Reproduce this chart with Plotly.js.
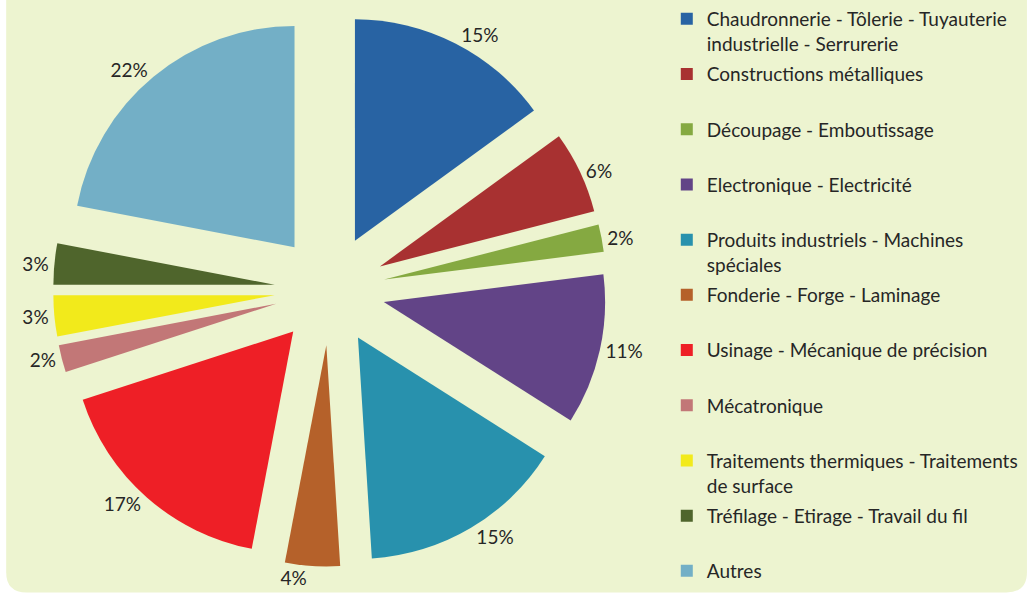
<!DOCTYPE html>
<html>
<head>
<meta charset="utf-8">
<script src="https://cdn.plot.ly/plotly-3.0.1.min.js"></script>
<style>
  html, body { margin: 0; padding: 0; background: #ffffff; }
  #chart { width: 1029px; height: 596px; }
</style>
</head>
<body>
<div id="chart"></div>
<script>
// ---- data ----
var categories = [
  "Chaudronnerie - Tôlerie - Tuyauterie<br>industrielle - Serrurerie",
  "Constructions métalliques",
  "Découpage - Emboutissage",
  "Electronique - Electricité",
  "Produits industriels - Machines<br>spéciales",
  "Fonderie - Forge - Laminage",
  "Usinage - Mécanique de précision",
  "Mécatronique",
  "Traitements thermiques - Traitements<br>de surface",
  "Tréfilage - Etirage - Travail du fil",
  "Autres"
];
var shares = [15, 6, 2, 11, 15, 4, 17, 2, 3, 3, 22];
var sliceColors = [
  "#2863A3", "#A83131", "#85A941", "#624487", "#2891AD", "#B5612A",
  "#EE1F26", "#C27777", "#F2EA1B", "#4F652C", "#73AFC6"
];

var textFont = { family: "Lato, 'Open Sans', sans-serif", size: 19, color: "#262626" };

var pieTrace = {
  type: "pie",
  labels: categories,
  values: shares,
  sort: false,
  direction: "clockwise",
  rotation: 0,
  pull: 0.25,
  marker: { colors: sliceColors, line: { width: 0 } },
  textinfo: "percent",
  texttemplate: "%{percent:.0%}",
  textposition: "outside",
  outsidetextfont: textFont,
  showlegend: false,
  domain: { x: [0.051, 0.590], y: [0.0495, 0.981] },
  hoverinfo: "label+percent"
};

// legend entries (one per category, same names & colours as the slices)
var legendTraces = categories.map(function (name, i) {
  var lines = name.split("<br>").length;
  var isLast = i === categories.length - 1;
  return {
    type: "scatter",
    mode: "markers",
    x: [null], y: [null],
    name: (lines > 1 || isLast) ? name : name + "<br> ",
    legendgroup: "g" + i,
    marker: { symbol: "square", size: 12, color: sliceColors[i], line: { width: 0 } },
    showlegend: true,
    hoverinfo: "skip"
  };
});

var layout = {
  width: 1029,
  height: 596,
  margin: { l: 0, r: 0, t: 0, b: 0 },
  paper_bgcolor: "#ffffff",
  plot_bgcolor: "rgba(0,0,0,0)",
  font: textFont,
  showlegend: true,
  xaxis: { visible: false },
  yaxis: { visible: false },
  legend: {
    x: 0.648, xanchor: "left",
    y: 1.004, yanchor: "top",
    valign: "top",
    maxheight: 700,
    font: textFont,
    bgcolor: "rgba(0,0,0,0)",
    tracegroupgap: 2.8,
    traceorder: "grouped"
  },
  shapes: [{
    type: "path",
    xref: "paper", yref: "paper",
    layer: "below",
    path: "M 0.006,1.01 L 0.006,0.04 Q 0.006,0.006 0.026,0.006 L 0.978,0.006 Q 0.998,0.006 0.998,0.04 L 0.998,1.01 Z",
    fillcolor: "#EDF4D0",
    line: { width: 0 }
  }]
};

Plotly.newPlot("chart", [pieTrace].concat(legendTraces), layout, { displayModeBar: false, staticPlot: true });
</script>
</body>
</html>
